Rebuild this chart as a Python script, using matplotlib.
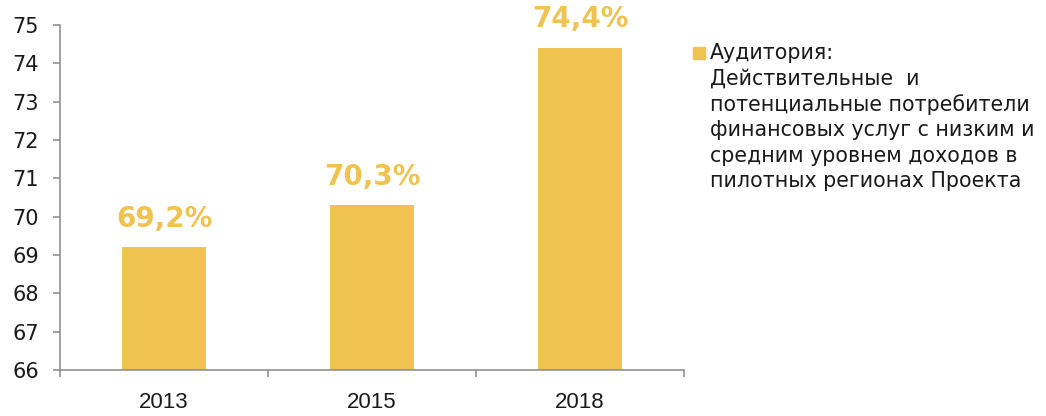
import numpy as np
import matplotlib
matplotlib.use("Agg")
import matplotlib.pyplot as plt
from matplotlib.patches import Rectangle

# data
years = ["2013", "2015", "2018"]
values = [69.2, 70.3, 74.4]
labels = ["69,2%", "70,3%", "74,4%"]
legend_text = ("Аудитория:\n"
               "Действительные  и\n"
               "потенциальные потребители\n"
               "финансовых услуг с низким и\n"
               "средним уровнем доходов в\n"
               "пилотных регионах Проекта")

bar_color = "#F0C350"
axis_color = "#898989"

fig = plt.figure(figsize=(10.46, 4.16), dpi=100)
ax = fig.add_axes([60/1046, 1 - 370/416, 624/1046, 345/416])

x = np.arange(len(years))
ax.bar(x, np.array(values) - 66, bottom=66, width=0.4, color=bar_color)

for xi, v, lab in zip(x, values, labels):
    ax.annotate(lab, (xi, v), xytext=(0, 10.5), textcoords="offset points",
                ha="center", va="bottom", fontsize=20, fontweight="bold",
                color=bar_color, family="DejaVu Sans")

ax.set_ylim(66, 75)
ax.set_xlim(-0.5, 2.5)
ax.set_yticks(range(66, 76))
ax.tick_params(axis="y", direction="out", length=5, width=1.1, color=axis_color,
               labelsize=15, pad=10, labelcolor="#1a1a1a")

ax.set_xticks(x)
ax.set_xticklabels(years, fontsize=16, family="Liberation Sans", color="#1a1a1a")
ax.tick_params(axis="x", which="major", length=0, pad=16)
ax.set_xticks([-0.5, 0.5, 1.5, 2.5], minor=True)
ax.tick_params(axis="x", which="minor", direction="out", length=5, width=1.1,
               color=axis_color)

for side in ["top", "right"]:
    ax.spines[side].set_visible(False)
for side in ["left", "bottom"]:
    ax.spines[side].set_color(axis_color)
    ax.spines[side].set_linewidth(1.1)

# legend
fig.patches.append(Rectangle((693/1046, 1 - 59/416), 12/1046, 12/416,
                             transform=fig.transFigure, color=bar_color))
fig.text(710/1046, 1 - 43/416, legend_text, ha="left", va="top",
         fontsize=14.8, color="#1a1a1a", linespacing=1.34)

fig.savefig("out.png", dpi=100)
